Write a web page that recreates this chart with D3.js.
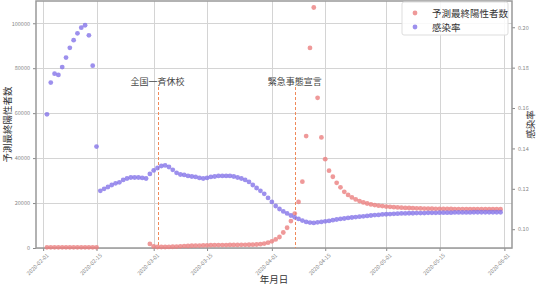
<!DOCTYPE html>
<html>
<head>
<meta charset="utf-8">
<script src="https://cdn.jsdelivr.net/npm/d3@7"></script>
<style>
  body { margin: 0; background: #fff; }
  text { font-family: "Noto Sans CJK JP", "DejaVu Sans", sans-serif; }
</style>
</head>
<body>
<div id="chart"></div>
<script>
// dates: 2020-02-02 .. 2020-05-31, one point per day
var startDay = "2020-02-02";
var endDay = "2020-06-01";

// 予測最終陽性者数 (left axis), null = no value
var positives = [
  300, 300, 310, 300, 290, 300, 310, 300, 300, 290, 300, 300, 310, 300,
  null, null, null, null, null, null, null, null, null, null, null, null, null,
  1800, 700, 450, 450, 450, 500, 550, 650, 750, 850, 900, 1000, 1050, 1100,
  1150, 1200, 1250, 1250, 1300, 1300, 1300, 1350, 1350, 1350, 1400, 1400, 1450,
  1500, 1550, 1700, 1950, 2350, 2950, 3800, 4900, 6900, 9000, 12000, 15300,
  20500, 29500, 49800, 89000, 107000, 66800, 49200, 39500, 34400, 31700, 29000,
  27000, 25000, 23600, 22500, 21600, 20900, 20300, 19800, 19400, 19100, 18850,
  18650, 18450, 18300, 18150, 18050, 17950, 17850, 17800, 17720, 17660, 17600,
  17550, 17510, 17480, 17450, 17420, 17400, 17380, 17360, 17340, 17330, 17320,
  17310, 17300, 17290, 17280, 17270, 17265, 17260, 17255, 17250, 17245
];

// 感染率 (right axis)
var infectionRate = [
  0.1569, 0.1726, 0.1770, 0.1764, 0.1803, 0.1850, 0.1898, 0.1936, 0.1970, 0.1998,
  0.2010, 0.1960, 0.1810, 0.1409, 0.1190, 0.1200, 0.1209, 0.1219, 0.1227, 0.1232,
  0.1244, 0.1251, 0.1256, 0.1256, 0.1256, 0.1254, 0.1251, 0.1274, 0.1291, 0.1303,
  0.1313, 0.1316, 0.1308, 0.1294, 0.1279, 0.1271, 0.1269, 0.1264, 0.1261, 0.1259,
  0.1254, 0.1251, 0.1254, 0.1259, 0.1261, 0.1264, 0.1264, 0.1264, 0.1264, 0.1261,
  0.1256, 0.1251, 0.1244, 0.1234, 0.1219, 0.1204, 0.1190, 0.1175, 0.1155, 0.1135,
  0.1115, 0.1100, 0.1088, 0.1078, 0.1068, 0.1059, 0.1051, 0.1043, 0.1036, 0.1033,
  0.1031, 0.1034, 0.1036, 0.1039, 0.1041, 0.1045, 0.1048, 0.1051, 0.1053, 0.1056,
  0.1058, 0.1060, 0.1062, 0.1064, 0.1066, 0.1068, 0.1070, 0.1071, 0.1073, 0.1074,
  0.1075, 0.1076, 0.1077, 0.1078, 0.1078, 0.1079, 0.1079, 0.1080, 0.1080, 0.1080,
  0.1081, 0.1081, 0.1081, 0.1082, 0.1082, 0.1082, 0.1082, 0.1083, 0.1083, 0.1083,
  0.1083, 0.1083, 0.1084, 0.1084, 0.1084, 0.1084, 0.1084, 0.1084, 0.1084, 0.1084
];

var xTicks = ["2020-02-01", "2020-02-15", "2020-03-01", "2020-03-15", "2020-04-01",
              "2020-04-15", "2020-05-01", "2020-05-15", "2020-06-01"];
var leftTicks = [0, 20000, 40000, 60000, 80000, 100000];
var rightTicks = [0.10, 0.12, 0.14, 0.16, 0.18, 0.20];

var events = [
  { date: "2020-03-02", label: "全国一斉休校" },
  { date: "2020-04-07", label: "緊急事態宣言" }
];

var seriesNames = ["予測最終陽性者数", "感染率"];
var colors = ["#eb8080", "#8574e8"];

var w = 536, h = 286;
var plotLeft = 36, plotRight = 512, plotTop = 1, plotBottom = 248;

var parse = d3.utcParse("%Y-%m-%d");
var days = d3.utcDay.range(parse(startDay), parse(endDay));

var svg = d3.select("#chart").append("svg")
  .attr("width", w)
  .attr("height", h);

var x = d3.scaleUtc()
  .domain([d3.utcHour.offset(parse("2020-01-30"), 3), parse("2020-06-03")])
  .range([plotLeft, plotRight]);

var yLeft = d3.scaleLinear()
  .domain([0, 109900])
  .range([plotBottom, plotTop]);

var yRight = d3.scaleLinear()
  .domain([0.0907, 0.2130])
  .range([plotBottom, plotTop]);

// grid
svg.append("g").selectAll("line")
  .data(leftTicks).enter().append("line")
  .attr("x1", plotLeft).attr("x2", plotRight)
  .attr("y1", function(d) { return Math.round(yLeft(d)) + 0.5; })
  .attr("y2", function(d) { return Math.round(yLeft(d)) + 0.5; })
  .attr("stroke", "#d4d4d4").attr("stroke-width", 1);

svg.append("g").selectAll("line")
  .data(xTicks).enter().append("line")
  .attr("x1", function(d) { return Math.round(x(parse(d))) + 0.5; })
  .attr("x2", function(d) { return Math.round(x(parse(d))) + 0.5; })
  .attr("y1", plotTop).attr("y2", plotBottom)
  .attr("stroke", "#d4d4d4").attr("stroke-width", 1);

// axes
var tickFont = "5.5px";
var gx = svg.append("g")
  .attr("transform", "translate(0," + plotBottom + ")")
  .call(d3.axisBottom(x).tickValues(xTicks.map(parse)).tickFormat(d3.utcFormat("%Y-%m-%d")).tickSize(3).tickSizeOuter(0));
gx.selectAll("text")
  .style("font-size", tickFont).attr("fill", "#888")
  .attr("text-anchor", "end")
  .attr("transform", "rotate(-45)")
  .attr("dx", "-0.3em").attr("dy", "0.6em");

var gl = svg.append("g")
  .attr("transform", "translate(" + plotLeft + ",0)")
  .call(d3.axisLeft(yLeft).tickValues(leftTicks).tickFormat(d3.format("d")).tickSize(3).tickSizeOuter(0));
gl.selectAll("text").style("font-size", tickFont).attr("fill", "#888");

var gr = svg.append("g")
  .attr("transform", "translate(" + plotRight + ",0)")
  .call(d3.axisRight(yRight).tickValues(rightTicks).tickFormat(d3.format(".2f")).tickSize(3).tickSizeOuter(0));
gr.selectAll("text").style("font-size", tickFont).attr("fill", "#888");

svg.selectAll(".domain").remove();
svg.selectAll(".tick line").attr("stroke", "#888");

// frame
svg.append("rect")
  .attr("x", plotLeft).attr("y", plotTop)
  .attr("width", plotRight - plotLeft).attr("height", plotBottom - plotTop)
  .attr("fill", "none").attr("stroke", "#999").attr("stroke-width", 1.5);

// event lines
svg.append("g").selectAll("line")
  .data(events).enter().append("line")
  .attr("x1", function(d) { return Math.round(x(parse(d.date))) + 0.5; })
  .attr("x2", function(d) { return Math.round(x(parse(d.date))) + 0.5; })
  .attr("y1", 87).attr("y2", plotBottom)
  .attr("stroke", "#f08a5a").attr("stroke-width", 1)
  .attr("stroke-dasharray", "3,2");

svg.append("g").selectAll("text")
  .data(events).enter().append("text")
  .attr("x", function(d) { return x(parse(d.date)); })
  .attr("y", 85)
  .attr("text-anchor", "middle")
  .style("font-size", "9px").attr("fill", "#444")
  .text(function(d) { return d.label; });

// points
svg.append("g").selectAll("circle")
  .data(days.map(function(d, i) { return { date: d, v: positives[i] }; })
    .filter(function(d) { return d.v != null; }))
  .enter().append("circle")
  .attr("cx", function(d) { return x(d.date); })
  .attr("cy", function(d) { return yLeft(d.v); })
  .attr("r", 2.4)
  .attr("fill", colors[0]).attr("fill-opacity", 0.8);

svg.append("g").selectAll("circle")
  .data(days.map(function(d, i) { return { date: d, v: infectionRate[i] }; }))
  .enter().append("circle")
  .attr("cx", function(d) { return x(d.date); })
  .attr("cy", function(d) { return yRight(d.v); })
  .attr("r", 2.4)
  .attr("fill", colors[1]).attr("fill-opacity", 0.8);

// axis titles
svg.append("text")
  .attr("transform", "translate(11," + ((plotTop + plotBottom) / 2) + ") rotate(-90)")
  .attr("text-anchor", "middle")
  .style("font-size", "9.5px").attr("fill", "#333")
  .text(seriesNames[0]);

svg.append("text")
  .attr("transform", "translate(534," + ((plotTop + plotBottom) / 2) + ") rotate(-90)")
  .attr("text-anchor", "middle")
  .style("font-size", "9.5px").attr("fill", "#333")
  .text(seriesNames[1]);

svg.append("text")
  .attr("x", (plotLeft + plotRight) / 2).attr("y", 283)
  .attr("text-anchor", "middle")
  .style("font-size", "9.5px").attr("fill", "#333")
  .text("年月日");

// legend
var lg = svg.append("g");
lg.append("rect")
  .attr("x", 402).attr("y", 2).attr("width", 106).attr("height", 33)
  .attr("rx", 2).attr("fill", "#fff").attr("fill-opacity", 0.85)
  .attr("stroke", "#ddd");
seriesNames.forEach(function(name, i) {
  lg.append("circle")
    .attr("cx", 415).attr("cy", 13 + i * 14).attr("r", 2.4)
    .attr("fill", colors[i]).attr("fill-opacity", 0.8);
  lg.append("text")
    .attr("x", 432).attr("y", 16.5 + i * 14)
    .style("font-size", "9.5px").attr("fill", "#333")
    .text(name);
});
</script>
</body>
</html>
